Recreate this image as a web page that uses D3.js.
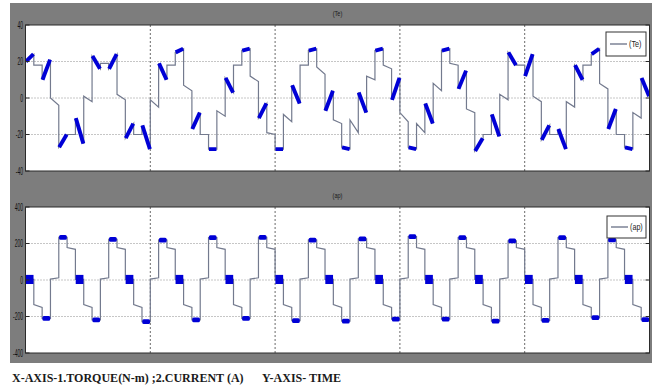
<!DOCTYPE html>
<html>
<head>
<meta charset="utf-8">
<script src="https://cdn.jsdelivr.net/npm/d3@7"></script>
<style>
  html, body { margin: 0; padding: 0; background: #fff; }
  svg { display: block; }
</style>
</head>
<body>
<svg id="chart" width="658" height="392"></svg>
<script>
// time axis is counted in inverter steps (75 steps over the record)
const timeTicks = [0, 15, 30, 45, 60, 75];
const torqueTicks = [-40, -20, 0, 20, 40];
const currentTicks = [-400, -200, 0, 200, 400];

const torqueName = "(Te)";
const currentName = "(ap)";
const captionLeft = "X-AXIS-1.TORQUE(N-m) ;2.CURRENT (A)";
const captionRight = "Y-AXIS- TIME";

// torque (N-m) at start / end of each step, b = ripple band, l = plain line
const torqueStart = [20, 18, 10, 0, -27, -20, -11, 1, 23, 19,
  16, 2, -22, -20, -15, -1, 19, 18, 25, 7,
  -17, -20, -28, -7, 11, 18, 26, 12, -11, -19,
  -28, -9, 7, 18, 26, 17, -7, -12, -27, -12,
  3, 12, 26, 18, -1, -8, -27, -14, -3, 8,
  26, 19, 5, -6, -29, -20, -9, 2, 25, 18,
  12, 1, -23, -20, -17, -2, 18, 18, 24, 8,
  -17, -20, -27, -8, 11];
const torqueEnd = [24, 18, 21, -4, -20, -20, -25, -2, 16, 19,
  24, -1, -14, -20, -28, -5, 10, 18, 27, 4,
  -8, -20, -28, -10, 3, 18, 27, 9, -3, -20,
  -28, -13, -3, 18, 27, 13, 4, -14, -28, -19,
  -8, 10, 27, 16, 11, -13, -28, -19, -14, 4,
  27, 18, 15, -8, -22, -20, -21, -1, 18, 18,
  24, -2, -15, -20, -28, -5, 10, 18, 27, 5,
  -6, -20, -28, -11, 1];
const torqueKind = "blblblblbl" + "blblblblbl" + "blblblblbl" + "blblblblbl" +
  "blblblblbl" + "blblblblbl" + "blblblblbl" + "blblb";

// phase current (A); s = ripple square at zero, c = ripple cap at peak
const currentStart = [3, -135, -210, 5, 234, 178,
  3, -135, -219, 5, 223, 178,
  3, -135, -228, 5, 219, 178,
  3, -135, -219, 5, 232, 178,
  3, -135, -210, 5, 234, 178,
  3, -135, -223, 5, 219, 178,
  3, -135, -225, 5, 225, 178,
  3, -135, -214, 5, 238, 178,
  3, -135, -214, 5, 232, 178,
  3, -135, -225, 5, 215, 178,
  3, -135, -221, 5, 232, 178,
  3, -135, -206, 5, 220, 178,
  3, -135, -217];
const currentEnd = [3, -150, -210, 12, 234, 168,
  3, -150, -219, 12, 223, 168,
  3, -150, -228, 12, 219, 168,
  3, -150, -219, 12, 232, 168,
  3, -150, -210, 12, 234, 168,
  3, -150, -223, 12, 219, 168,
  3, -150, -225, 12, 225, 168,
  3, -150, -214, 12, 238, 168,
  3, -150, -214, 12, 232, 168,
  3, -150, -225, 12, 215, 168,
  3, -150, -221, 12, 232, 168,
  3, -150, -206, 12, 220, 168,
  3, -150, -217];
const currentKind = "slclcl" + "slclcl" + "slclcl" + "slclcl" + "slclcl" + "slclcl" +
  "slclcl" + "slclcl" + "slclcl" + "slclcl" + "slclcl" + "slclcl" + "slc";
// half height of the ripple band (A)
const currentRipple = { s: 25, c: 13 };

const svg = d3.select("#chart");
const lineColor = "#737a8e";
const blue = "#0000d6";

// grey scope background
svg.append("rect")
  .attr("x", 10).attr("y", 3)
  .attr("width", 642).attr("height", 360)
  .attr("fill", "#7d7d7d");

const x = d3.scaleLinear().domain([0, 75]).range([25.5, 649.5]);

function drawPanel(p) {
  const y = d3.scaleLinear().domain(d3.extent(p.ticks)).range([p.bottom, p.top]);
  const g = svg.append("g");
  const x0 = x(0), x1 = x(75);

  g.append("clipPath").attr("id", p.id)
    .append("rect").attr("x", x0).attr("y", p.top)
    .attr("width", x1 - x0).attr("height", p.bottom - p.top);

  g.append("rect")
    .attr("x", x0).attr("y", p.top)
    .attr("width", x1 - x0).attr("height", p.bottom - p.top)
    .attr("fill", "#fff");

  // grid
  g.selectAll(".hgrid").data(p.ticks.slice(1, -1)).join("line")
    .attr("class", "hgrid")
    .attr("x1", x0).attr("x2", x1)
    .attr("y1", d => y(d)).attr("y2", d => y(d))
    .attr("stroke", "#8c8c8c").attr("stroke-dasharray", "1,2");
  g.selectAll(".vgrid").data(timeTicks.slice(1, -1)).join("line")
    .attr("class", "vgrid")
    .attr("x1", d => x(d)).attr("x2", d => x(d))
    .attr("y1", p.top).attr("y2", p.bottom)
    .attr("stroke", "#6a6a6a").attr("stroke-dasharray", "2,2");

  const plot = g.append("g").attr("clip-path", "url(#" + p.id + ")");

  const pts = [];
  p.start.forEach((v, k) => {
    pts.push([k, v]);
    pts.push([k + 1, p.end[k]]);
  });
  plot.append("path")
    .attr("d", d3.line().x(d => x(d[0])).y(d => y(d[1]))(pts))
    .attr("fill", "none")
    .attr("stroke", lineColor)
    .attr("stroke-width", 1.2);

  p.drawRipple(plot, y);

  // frame
  g.append("rect")
    .attr("x", x0).attr("y", p.top)
    .attr("width", x1 - x0).attr("height", p.bottom - p.top)
    .attr("fill", "none").attr("stroke", "#2b2b2b").attr("stroke-width", 1);

  // inner ticks on both sides
  g.selectAll(".ltick").data(p.ticks).join("line")
    .attr("class", "ltick")
    .attr("x1", x0).attr("x2", x0 + 4)
    .attr("y1", d => y(d)).attr("y2", d => y(d))
    .attr("stroke", "#2b2b2b");
  g.selectAll(".rtick").data(p.ticks).join("line")
    .attr("class", "rtick")
    .attr("x1", x1 - 4).attr("x2", x1)
    .attr("y1", d => y(d)).attr("y2", d => y(d))
    .attr("stroke", "#2b2b2b");

  // tick labels (narrow scope font)
  g.selectAll(".ylab").data(p.ticks).join("text")
    .attr("class", "ylab")
    .attr("transform", d => "translate(" + (x0 - 2.5) + "," + y(d) + ") scale(0.5,1)")
    .attr("text-anchor", "end")
    .attr("dy", "0.36em")
    .attr("font-family", "Liberation Sans, Arial, sans-serif")
    .attr("font-size", 10)
    .attr("fill", "#111")
    .text(d => d);

  // title above the panel
  svg.append("text")
    .attr("transform", "translate(" + ((x0 + x1) / 2) + "," + p.titleY + ") scale(0.7,1)")
    .attr("text-anchor", "middle")
    .attr("font-family", "Liberation Sans, Arial, sans-serif")
    .attr("font-size", 8)
    .attr("fill", "#1a1a1a")
    .text(p.name);

  // legend
  const lg = svg.append("g").attr("transform", "translate(" + p.legend[0] + "," + p.legend[1] + ")");
  lg.append("rect")
    .attr("width", p.legend[2]).attr("height", p.legend[3])
    .attr("fill", "#fff").attr("stroke", "#333");
  lg.append("line")
    .attr("x1", 4).attr("x2", 21)
    .attr("y1", p.legend[3] / 2).attr("y2", p.legend[3] / 2)
    .attr("stroke", lineColor).attr("stroke-width", 1.4);
  lg.append("text")
    .attr("transform", "translate(23," + (p.legend[3] / 2 + 3) + ") scale(0.8,1)")
    .attr("font-family", "Liberation Sans, Arial, sans-serif")
    .attr("font-size", 9)
    .attr("fill", "#222")
    .text(p.name);
}

drawPanel({
  id: "clipTorque", top: 25, bottom: 171, ticks: torqueTicks,
  start: torqueStart, end: torqueEnd, name: torqueName,
  titleY: 16, legend: [606, 32, 40, 24],
  drawRipple: (plot, y) => {
    plot.selectAll(".blob")
      .data(d3.range(75).filter(k => torqueKind[k] === "b"))
      .join("line")
      .attr("class", "blob")
      .attr("x1", k => x(k) + 0.4).attr("x2", k => x(k + 1) - 0.4)
      .attr("y1", k => y(torqueStart[k])).attr("y2", k => y(torqueEnd[k]))
      .attr("stroke", blue).attr("stroke-width", 3.9);
  }
});

drawPanel({
  id: "clipCurrent", top: 207, bottom: 353, ticks: currentTicks,
  start: currentStart, end: currentEnd, name: currentName,
  titleY: 198, legend: [607, 216, 39, 22],
  drawRipple: (plot, y) => {
    plot.selectAll(".band")
      .data(d3.range(75).filter(k => currentKind[k] !== "l"))
      .join("rect")
      .attr("class", "band")
      .attr("x", k => x(k) + 0.3)
      .attr("width", k => x(k + 1) - x(k) - 0.6)
      .attr("y", k => y(currentStart[k] + currentRipple[currentKind[k]]))
      .attr("height", k => y(-currentRipple[currentKind[k]]) - y(currentRipple[currentKind[k]]))
      .attr("rx", k => currentKind[k] === "c" ? 1.5 : 0)
      .attr("fill", blue);
  }
});

// caption under the figure
svg.append("text")
  .attr("x", 12).attr("y", 382)
  .attr("font-family", "Liberation Serif, Times New Roman, serif")
  .attr("font-weight", "bold")
  .attr("font-size", 12)
  .attr("fill", "#1a1a1a")
  .text(captionLeft);
svg.append("text")
  .attr("x", 262).attr("y", 382)
  .attr("font-family", "Liberation Serif, Times New Roman, serif")
  .attr("font-weight", "bold")
  .attr("font-size", 12)
  .attr("fill", "#1a1a1a")
  .text(captionRight);
</script>
</body>
</html>
